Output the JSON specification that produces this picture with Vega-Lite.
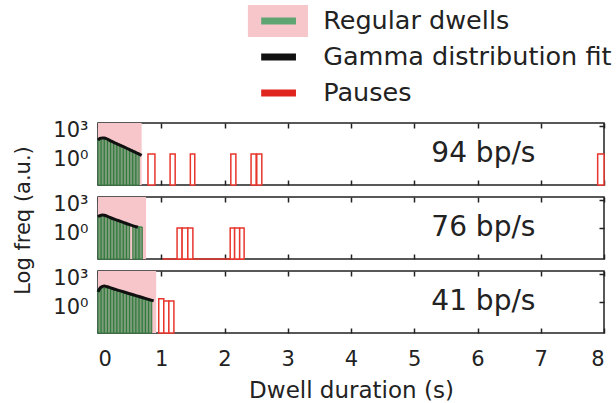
{
  "$schema": "https://vega.github.io/schema/vega-lite/v6.json",
  "padding": {"left": 12, "top": 3, "right": 2, "bottom": 2},
  "spacing": 12,
  "bounds": "flush",
  "config": {
    "font": "DejaVu Sans",
    "view": {"stroke": "#222222", "strokeWidth": 1.5},
    "text": {"font": "DejaVu Sans"},
    "axis": {"domain": false, "grid": false, "tickColor": "#222222", "tickWidth": 1.5, "labelColor": "#222222", "titleColor": "#222222", "labelFont": "DejaVu Sans", "titleFont": "DejaVu Sans", "titleFontWeight": "normal", "labelFontSize": 21, "titleFontSize": 23}
  },
  "datasets": {
    "legend": [
      {"label": "Regular dwells", "kind": "dwell"},
      {"label": "Gamma distribution fit", "kind": "fit"},
      {"label": "Pauses", "kind": "pause"}
    ],
    "shade": [
      {"panel": "94", "x0": 0, "x1": 0.69},
      {"panel": "76", "x0": 0, "x1": 0.76},
      {"panel": "41", "x0": 0, "x1": 0.92}
    ],
    "labels": [
      {"panel": "94", "text": "94 bp/s"},
      {"panel": "76", "text": "76 bp/s"},
      {"panel": "41", "text": "41 bp/s"}
    ],
    "green": [
      {"panel": "94", "x0": 0.0, "x1": 0.05, "freq": 35},
      {"panel": "94", "x0": 0.05, "x1": 0.1, "freq": 45},
      {"panel": "94", "x0": 0.1, "x1": 0.15, "freq": 40},
      {"panel": "94", "x0": 0.15, "x1": 0.2, "freq": 30},
      {"panel": "94", "x0": 0.2, "x1": 0.25, "freq": 22},
      {"panel": "94", "x0": 0.25, "x1": 0.3, "freq": 16},
      {"panel": "94", "x0": 0.3, "x1": 0.35, "freq": 11},
      {"panel": "94", "x0": 0.35, "x1": 0.4, "freq": 8},
      {"panel": "94", "x0": 0.4, "x1": 0.45, "freq": 5.5},
      {"panel": "94", "x0": 0.45, "x1": 0.5, "freq": 4},
      {"panel": "94", "x0": 0.5, "x1": 0.55, "freq": 2.8},
      {"panel": "94", "x0": 0.55, "x1": 0.6, "freq": 2},
      {"panel": "94", "x0": 0.6, "x1": 0.65, "freq": 1.4},
      {"panel": "76", "x0": 0.0, "x1": 0.05, "freq": 18},
      {"panel": "76", "x0": 0.05, "x1": 0.1, "freq": 22},
      {"panel": "76", "x0": 0.1, "x1": 0.15, "freq": 19},
      {"panel": "76", "x0": 0.15, "x1": 0.2, "freq": 14},
      {"panel": "76", "x0": 0.2, "x1": 0.25, "freq": 10},
      {"panel": "76", "x0": 0.25, "x1": 0.3, "freq": 7.5},
      {"panel": "76", "x0": 0.3, "x1": 0.35, "freq": 5.5},
      {"panel": "76", "x0": 0.35, "x1": 0.4, "freq": 4},
      {"panel": "76", "x0": 0.4, "x1": 0.45, "freq": 2.8},
      {"panel": "76", "x0": 0.45, "x1": 0.5, "freq": 2},
      {"panel": "76", "x0": 0.55, "x1": 0.6, "freq": 1.4},
      {"panel": "76", "x0": 0.6, "x1": 0.65, "freq": 1.4},
      {"panel": "76", "x0": 0.65, "x1": 0.7, "freq": 1.3},
      {"panel": "41", "x0": 0.0, "x1": 0.05, "freq": 25},
      {"panel": "41", "x0": 0.05, "x1": 0.1, "freq": 32},
      {"panel": "41", "x0": 0.1, "x1": 0.15, "freq": 32},
      {"panel": "41", "x0": 0.15, "x1": 0.2, "freq": 29},
      {"panel": "41", "x0": 0.2, "x1": 0.25, "freq": 22},
      {"panel": "41", "x0": 0.25, "x1": 0.3, "freq": 17.5},
      {"panel": "41", "x0": 0.3, "x1": 0.35, "freq": 13.8},
      {"panel": "41", "x0": 0.35, "x1": 0.4, "freq": 10.8},
      {"panel": "41", "x0": 0.4, "x1": 0.45, "freq": 8.4},
      {"panel": "41", "x0": 0.45, "x1": 0.5, "freq": 6.6},
      {"panel": "41", "x0": 0.5, "x1": 0.55, "freq": 5.1},
      {"panel": "41", "x0": 0.55, "x1": 0.6, "freq": 4.0},
      {"panel": "41", "x0": 0.6, "x1": 0.65, "freq": 3.2},
      {"panel": "41", "x0": 0.65, "x1": 0.7, "freq": 2.5},
      {"panel": "41", "x0": 0.7, "x1": 0.75, "freq": 1.9},
      {"panel": "41", "x0": 0.75, "x1": 0.8, "freq": 1.5},
      {"panel": "41", "x0": 0.8, "x1": 0.85, "freq": 1.2}
    ],
    "fit": [
      {"panel": "94", "x0": 0.0, "freq": 30},
      {"panel": "94", "x0": 0.03, "freq": 45},
      {"panel": "94", "x0": 0.07, "freq": 52},
      {"panel": "94", "x0": 0.1, "freq": 52},
      {"panel": "94", "x0": 0.15, "freq": 38},
      {"panel": "94", "x0": 0.2, "freq": 25},
      {"panel": "94", "x0": 0.3, "freq": 12.3},
      {"panel": "94", "x0": 0.4, "freq": 6},
      {"panel": "94", "x0": 0.5, "freq": 2.9},
      {"panel": "94", "x0": 0.6, "freq": 1.4},
      {"panel": "94", "x0": 0.69, "freq": 0.72},
      {"panel": "76", "x0": 0.0, "freq": 15},
      {"panel": "76", "x0": 0.03, "freq": 21},
      {"panel": "76", "x0": 0.07, "freq": 24},
      {"panel": "76", "x0": 0.1, "freq": 23},
      {"panel": "76", "x0": 0.2, "freq": 12.3},
      {"panel": "76", "x0": 0.3, "freq": 7},
      {"panel": "76", "x0": 0.4, "freq": 4},
      {"panel": "76", "x0": 0.5, "freq": 2.3},
      {"panel": "76", "x0": 0.63, "freq": 1.2},
      {"panel": "41", "x0": 0.0, "freq": 12},
      {"panel": "41", "x0": 0.04, "freq": 35},
      {"panel": "41", "x0": 0.1, "freq": 50},
      {"panel": "41", "x0": 0.15, "freq": 42},
      {"panel": "41", "x0": 0.2, "freq": 32},
      {"panel": "41", "x0": 0.3, "freq": 19.5},
      {"panel": "41", "x0": 0.4, "freq": 12.3},
      {"panel": "41", "x0": 0.5, "freq": 7.6},
      {"panel": "41", "x0": 0.6, "freq": 4.8},
      {"panel": "41", "x0": 0.7, "freq": 3},
      {"panel": "41", "x0": 0.8, "freq": 1.9},
      {"panel": "41", "x0": 0.88, "freq": 1.3}
    ],
    "pause": [
      {"panel": "94", "x0": 0.79, "x1": 0.9, "freq": 1},
      {"panel": "94", "x0": 1.14, "x1": 1.22, "freq": 1},
      {"panel": "94", "x0": 1.46, "x1": 1.53, "freq": 1},
      {"panel": "94", "x0": 2.1, "x1": 2.18, "freq": 1},
      {"panel": "94", "x0": 2.42, "x1": 2.5, "freq": 1},
      {"panel": "94", "x0": 2.51, "x1": 2.59, "freq": 1},
      {"panel": "94", "x0": 7.9, "x1": 8.0, "freq": 1},
      {"panel": "76", "x0": 1.25, "x1": 1.33, "freq": 1},
      {"panel": "76", "x0": 1.33, "x1": 1.42, "freq": 1},
      {"panel": "76", "x0": 1.42, "x1": 1.5, "freq": 1},
      {"panel": "76", "x0": 2.09, "x1": 2.16, "freq": 1},
      {"panel": "76", "x0": 2.16, "x1": 2.24, "freq": 1},
      {"panel": "76", "x0": 2.24, "x1": 2.31, "freq": 1},
      {"panel": "41", "x0": 0.96, "x1": 1.04, "freq": 2.2},
      {"panel": "41", "x0": 1.04, "x1": 1.12, "freq": 1.3},
      {"panel": "41", "x0": 1.12, "x1": 1.2, "freq": 1.3}
    ],
    "zeroline": [
      {"panel": "76", "x0": 1.02, "x1": 2.31}
    ]
  },
  "vconcat": [
    {
      "width": 506, "height": 108,
      "view": {"stroke": null},
      "data": {"name": "legend"},
      "layer": [
        {
          "transform": [{"filter": "datum.kind === 'dwell'"}],
          "mark": {"type": "bar", "height": 32, "color": "#f6c6ca"},
          "encoding": {
            "x": {"datum": 2.37, "type": "quantitative", "scale": {"domain": [0, 8], "nice": false}, "axis": null},
            "x2": {"datum": 3.32},
            "y": {"field": "label", "type": "nominal", "scale": {"type": "point", "domain": ["Regular dwells", "Gamma distribution fit", "Pauses"], "padding": 0.5}, "axis": null}
          }
        },
        {
          "mark": {"type": "bar", "height": 7},
          "encoding": {
            "x": {"datum": 2.58, "type": "quantitative", "scale": {"domain": [0, 8], "nice": false}, "axis": null},
            "x2": {"datum": 3.13},
            "y": {"field": "label", "type": "nominal", "scale": {"type": "point", "domain": ["Regular dwells", "Gamma distribution fit", "Pauses"], "padding": 0.5}, "axis": null},
            "color": {"field": "label", "type": "nominal", "scale": {"domain": ["Regular dwells", "Gamma distribution fit", "Pauses"], "range": ["#5fa573", "#111111", "#e0251f"]}, "legend": null}
          }
        },
        {
          "mark": {"type": "text", "align": "left", "baseline": "middle", "fontSize": 25.5, "color": "#222222"},
          "encoding": {
            "x": {"datum": 3.56, "type": "quantitative", "scale": {"domain": [0, 8], "nice": false}, "axis": null},
            "y": {"field": "label", "type": "nominal", "scale": {"type": "point", "domain": ["Regular dwells", "Gamma distribution fit", "Pauses"], "padding": 0.5}, "axis": null},
            "text": {"field": "label"}
          }
        }
      ]
    },
    {
      "width": 506, "height": 62,
      "resolve": {"axis": {"x": "independent", "y": "independent"}},
      "layer": [
        {
          "data": {"name": "shade"}, "transform": [{"filter": "datum.panel === '94'"}],
          "mark": {"type": "rect", "color": "#f6c6ca"},
          "encoding": {
            "x": {"field": "x0", "type": "quantitative", "scale": {"domain": [0, 8], "nice": false}, "axis": {"orient": "bottom", "values": [0, 1, 2, 3, 4, 5, 6, 7, 8], "labels": false, "title": null, "tickSize": -5}},
            "x2": {"field": "x1"},
            "y": {"datum": 0.0005, "type": "quantitative", "scale": {"type": "log", "domain": [0.0005, 2000], "nice": false}, "axis": {"orient": "left", "values": [1, 1000], "labelExpr": "datum.value == 1 ? '10⁰' : '10³'", "tickSize": -5, "labelPadding": 15, "labelOffset": 5, "title": null}},
            "y2": {"datum": 2000}
          }
        },
        {
          "data": {"name": "green"}, "transform": [{"filter": "datum.panel === '94'"}],
          "mark": {"type": "bar", "fill": "#7d9c79", "stroke": "#2d7a3b", "strokeWidth": 1},
          "encoding": {
            "x": {"field": "x0", "type": "quantitative", "scale": {"domain": [0, 8], "nice": false}, "axis": null},
            "x2": {"field": "x1"},
            "y": {"field": "freq", "type": "quantitative", "scale": {"type": "log", "domain": [0.0005, 2000], "nice": false}, "axis": null},
            "y2": {"datum": 0.0005}
          }
        },
        {
          "data": {"name": "pause"}, "transform": [{"filter": "datum.panel === '94'"}],
          "mark": {"type": "bar", "fill": "#ffffff", "stroke": "#e8362d", "strokeWidth": 1.5},
          "encoding": {
            "x": {"field": "x0", "type": "quantitative", "scale": {"domain": [0, 8], "nice": false}, "axis": null},
            "x2": {"field": "x1"},
            "y": {"field": "freq", "type": "quantitative", "scale": {"type": "log", "domain": [0.0005, 2000], "nice": false}, "axis": null},
            "y2": {"datum": 0.0005}
          }
        },
        {
          "data": {"name": "fit"}, "transform": [{"filter": "datum.panel === '94'"}],
          "mark": {"type": "line", "color": "#111111", "strokeWidth": 3, "interpolate": "monotone"},
          "encoding": {
            "x": {"field": "x0", "type": "quantitative", "scale": {"domain": [0, 8], "nice": false}, "axis": null},
            "y": {"field": "freq", "type": "quantitative", "scale": {"type": "log", "domain": [0.0005, 2000], "nice": false}, "axis": null}
          }
        },
        {
          "data": {"name": "labels"}, "transform": [{"filter": "datum.panel === '94'"}],
          "mark": {"type": "text", "align": "left", "baseline": "middle", "fontSize": 28, "color": "#222222"},
          "encoding": {
            "x": {"datum": 5.27, "type": "quantitative", "scale": {"domain": [0, 8], "nice": false}, "axis": {"orient": "top", "values": [0, 1, 2, 3, 4, 5, 6, 7, 8], "labels": false, "title": null, "tickSize": -5}},
            "y": {"datum": 1, "type": "quantitative", "scale": {"type": "log", "domain": [0.0005, 2000], "nice": false}, "axis": {"orient": "right", "values": [1, 1000], "labels": false, "title": null, "tickSize": -5}},
            "text": {"field": "text"}
          }
        }
      ]
    },
    {
      "width": 506, "height": 62,
      "resolve": {"axis": {"x": "independent", "y": "independent"}},
      "layer": [
        {
          "data": {"name": "shade"}, "transform": [{"filter": "datum.panel === '76'"}],
          "mark": {"type": "rect", "color": "#f6c6ca"},
          "encoding": {
            "x": {"field": "x0", "type": "quantitative", "scale": {"domain": [0, 8], "nice": false}, "axis": {"orient": "bottom", "values": [0, 1, 2, 3, 4, 5, 6, 7, 8], "labels": false, "title": null, "tickSize": -5}},
            "x2": {"field": "x1"},
            "y": {"datum": 0.0005, "type": "quantitative", "scale": {"type": "log", "domain": [0.0005, 2000], "nice": false}, "axis": {"orient": "left", "values": [1, 1000], "labelExpr": "datum.value == 1 ? '10⁰' : '10³'", "tickSize": -5, "labelPadding": 15, "labelOffset": 5, "title": "Log freq (a.u.)", "titleFontSize": 21, "titlePadding": 19, "titleY": 23}},
            "y2": {"datum": 2000}
          }
        },
        {
          "data": {"name": "green"}, "transform": [{"filter": "datum.panel === '76'"}],
          "mark": {"type": "bar", "fill": "#7d9c79", "stroke": "#2d7a3b", "strokeWidth": 1},
          "encoding": {
            "x": {"field": "x0", "type": "quantitative", "scale": {"domain": [0, 8], "nice": false}, "axis": null},
            "x2": {"field": "x1"},
            "y": {"field": "freq", "type": "quantitative", "scale": {"type": "log", "domain": [0.0005, 2000], "nice": false}, "axis": null},
            "y2": {"datum": 0.0005}
          }
        },
        {
          "data": {"name": "zeroline"}, "transform": [{"filter": "datum.panel === '76'"}],
          "mark": {"type": "rule", "color": "#e8362d", "strokeWidth": 1.5},
          "encoding": {
            "x": {"field": "x0", "type": "quantitative", "scale": {"domain": [0, 8], "nice": false}, "axis": null},
            "x2": {"field": "x1"},
            "y": {"datum": 0.0005, "type": "quantitative", "scale": {"type": "log", "domain": [0.0005, 2000], "nice": false}, "axis": null}
          }
        },
        {
          "data": {"name": "pause"}, "transform": [{"filter": "datum.panel === '76'"}],
          "mark": {"type": "bar", "fill": "#ffffff", "stroke": "#e8362d", "strokeWidth": 1.5},
          "encoding": {
            "x": {"field": "x0", "type": "quantitative", "scale": {"domain": [0, 8], "nice": false}, "axis": null},
            "x2": {"field": "x1"},
            "y": {"field": "freq", "type": "quantitative", "scale": {"type": "log", "domain": [0.0005, 2000], "nice": false}, "axis": null},
            "y2": {"datum": 0.0005}
          }
        },
        {
          "data": {"name": "fit"}, "transform": [{"filter": "datum.panel === '76'"}],
          "mark": {"type": "line", "color": "#111111", "strokeWidth": 3, "interpolate": "monotone"},
          "encoding": {
            "x": {"field": "x0", "type": "quantitative", "scale": {"domain": [0, 8], "nice": false}, "axis": null},
            "y": {"field": "freq", "type": "quantitative", "scale": {"type": "log", "domain": [0.0005, 2000], "nice": false}, "axis": null}
          }
        },
        {
          "data": {"name": "labels"}, "transform": [{"filter": "datum.panel === '76'"}],
          "mark": {"type": "text", "align": "left", "baseline": "middle", "fontSize": 28, "color": "#222222"},
          "encoding": {
            "x": {"datum": 5.27, "type": "quantitative", "scale": {"domain": [0, 8], "nice": false}, "axis": {"orient": "top", "values": [0, 1, 2, 3, 4, 5, 6, 7, 8], "labels": false, "title": null, "tickSize": -5}},
            "y": {"datum": 1, "type": "quantitative", "scale": {"type": "log", "domain": [0.0005, 2000], "nice": false}, "axis": {"orient": "right", "values": [1, 1000], "labels": false, "title": null, "tickSize": -5}},
            "text": {"field": "text"}
          }
        }
      ]
    },
    {
      "width": 506, "height": 62,
      "resolve": {"axis": {"x": "independent", "y": "independent"}},
      "layer": [
        {
          "data": {"name": "shade"}, "transform": [{"filter": "datum.panel === '41'"}],
          "mark": {"type": "rect", "color": "#f6c6ca"},
          "encoding": {
            "x": {"field": "x0", "type": "quantitative", "scale": {"domain": [0, 8], "nice": false}, "axis": {"orient": "bottom", "values": [0, 1, 2, 3, 4, 5, 6, 7, 8], "labels": true, "labelPadding": 20, "title": "Dwell duration (s)", "titlePadding": 10, "tickSize": -5}},
            "x2": {"field": "x1"},
            "y": {"datum": 0.0005, "type": "quantitative", "scale": {"type": "log", "domain": [0.0005, 2000], "nice": false}, "axis": {"orient": "left", "values": [1, 1000], "labelExpr": "datum.value == 1 ? '10⁰' : '10³'", "tickSize": -5, "labelPadding": 15, "labelOffset": 5, "title": null}},
            "y2": {"datum": 2000}
          }
        },
        {
          "data": {"name": "green"}, "transform": [{"filter": "datum.panel === '41'"}],
          "mark": {"type": "bar", "fill": "#7d9c79", "stroke": "#2d7a3b", "strokeWidth": 1},
          "encoding": {
            "x": {"field": "x0", "type": "quantitative", "scale": {"domain": [0, 8], "nice": false}, "axis": null},
            "x2": {"field": "x1"},
            "y": {"field": "freq", "type": "quantitative", "scale": {"type": "log", "domain": [0.0005, 2000], "nice": false}, "axis": null},
            "y2": {"datum": 0.0005}
          }
        },
        {
          "data": {"name": "pause"}, "transform": [{"filter": "datum.panel === '41'"}],
          "mark": {"type": "bar", "fill": "#ffffff", "stroke": "#e8362d", "strokeWidth": 1.5},
          "encoding": {
            "x": {"field": "x0", "type": "quantitative", "scale": {"domain": [0, 8], "nice": false}, "axis": null},
            "x2": {"field": "x1"},
            "y": {"field": "freq", "type": "quantitative", "scale": {"type": "log", "domain": [0.0005, 2000], "nice": false}, "axis": null},
            "y2": {"datum": 0.0005}
          }
        },
        {
          "data": {"name": "fit"}, "transform": [{"filter": "datum.panel === '41'"}],
          "mark": {"type": "line", "color": "#111111", "strokeWidth": 3, "interpolate": "monotone"},
          "encoding": {
            "x": {"field": "x0", "type": "quantitative", "scale": {"domain": [0, 8], "nice": false}, "axis": null},
            "y": {"field": "freq", "type": "quantitative", "scale": {"type": "log", "domain": [0.0005, 2000], "nice": false}, "axis": null}
          }
        },
        {
          "data": {"name": "labels"}, "transform": [{"filter": "datum.panel === '41'"}],
          "mark": {"type": "text", "align": "left", "baseline": "middle", "fontSize": 28, "color": "#222222"},
          "encoding": {
            "x": {"datum": 5.27, "type": "quantitative", "scale": {"domain": [0, 8], "nice": false}, "axis": {"orient": "top", "values": [0, 1, 2, 3, 4, 5, 6, 7, 8], "labels": false, "title": null, "tickSize": -5}},
            "y": {"datum": 1, "type": "quantitative", "scale": {"type": "log", "domain": [0.0005, 2000], "nice": false}, "axis": {"orient": "right", "values": [1, 1000], "labels": false, "title": null, "tickSize": -5}},
            "text": {"field": "text"}
          }
        }
      ]
    }
  ]
}
